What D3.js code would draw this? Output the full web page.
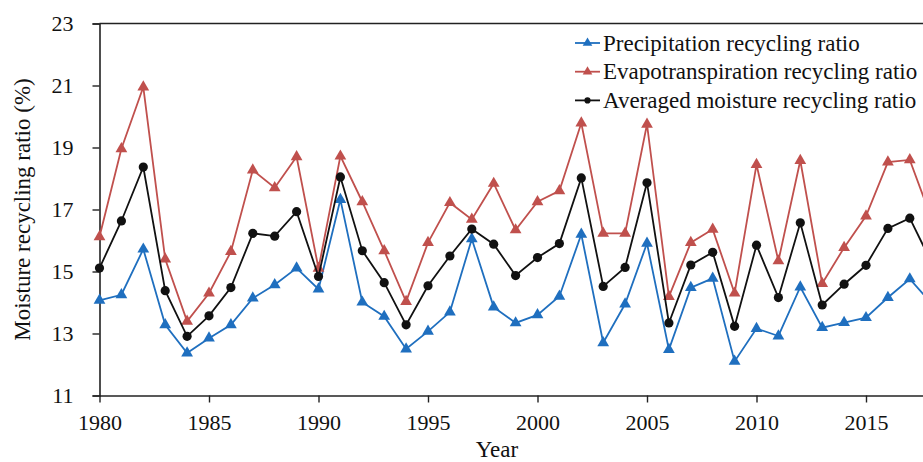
<!DOCTYPE html>
<html>
<head>
<meta charset="utf-8">
<script src="https://cdn.jsdelivr.net/npm/d3@7"></script>
<style>
  body { margin: 0; background: #fff; overflow: hidden; }
  svg { display: block; font-family: "Liberation Serif", "Times New Roman", serif; }
</style>
</head>
<body>
<div id="chart"></div>
<script>
const years = d3.range(1980, 2019)
const precip = [14.07, 14.25, 15.72, 13.28, 12.37, 12.85, 13.28, 14.14, 14.57, 15.11,
  14.43, 17.32, 14.01, 13.55, 12.5, 13.07, 13.69, 16.05, 13.85, 13.34,
  13.6, 14.2, 16.2, 12.7, 13.95, 15.91, 12.48, 14.48, 14.78, 12.1,
  13.16, 12.92, 14.5, 13.19, 13.35, 13.51, 14.16, 14.76, 13.96]
const evap = [16.12, 18.96, 20.95, 15.4, 13.39, 14.3, 15.64, 18.27, 17.7, 18.7,
  15.1, 18.72, 17.25, 15.67, 14.03, 15.93, 17.22, 16.68, 17.84, 16.34,
  17.25, 17.6, 19.79, 16.23, 16.23, 19.75, 14.19, 15.93, 16.36, 14.3,
  18.45, 15.34, 18.58, 14.61, 15.77, 16.79, 18.53, 18.6, 16.69]
const averaged = [15.11, 16.63, 18.37, 14.38, 12.91, 13.57, 14.48, 16.23, 16.14, 16.93,
  14.84, 18.05, 15.67, 14.64, 13.28, 14.54, 15.5, 16.37, 15.88, 14.87,
  15.45, 15.9, 18.02, 14.52, 15.13, 17.86, 13.34, 15.21, 15.62, 13.23,
  15.85, 14.16, 16.57, 13.92, 14.59, 15.2, 16.39, 16.72, 15.28]
const xTicks = [1980, 1985, 1990, 1995, 2000, 2005, 2010, 2015]
const yTicks = [11, 13, 15, 17, 19, 21, 23]

const series = [
  { name: 'Precipitation recycling ratio', values: precip, color: '#1f6fbf', marker: 'triangle' },
  { name: 'Evapotranspiration recycling ratio', values: evap, color: '#c0504d', marker: 'triangle' },
  { name: 'Averaged moisture recycling ratio', values: averaged, color: '#111111', marker: 'circle' }
]

const width = 923, height = 462
const margin = { top: 23.5, left: 99.5, bottom: 66 }

const svg = d3.select('#chart')
  .append('svg')
    .attr('width', width)
    .attr('height', height)

// x axis runs past the right edge, like the cropped original
const x = d3.scaleLinear()
  .domain([1980, 2020])
  .range([margin.left, margin.left + 40 * 21.9])

const y = d3.scaleLinear()
  .domain([11, 23])
  .range([height - margin.bottom - 0.5, margin.top])

// frame: top border
svg.append('line')
  .attr('x1', margin.left).attr('x2', width + 5)
  .attr('y1', y(23)).attr('y2', y(23))
  .attr('stroke', '#222').attr('stroke-width', 1.6)

const yAxis = svg.append('g')
  .attr('transform', `translate(${margin.left},0)`)
  .call(d3.axisLeft(y).tickValues(yTicks).tickSize(7).tickPadding(19))
yAxis.select('.domain').attr('stroke', '#222').attr('stroke-width', 1.6)
yAxis.selectAll('.tick line').attr('stroke', '#222').attr('stroke-width', 1.4)
yAxis.selectAll('text').attr('font-size', '22px').attr('fill', '#111').attr('font-family', '"Liberation Serif", serif')

const xAxis = svg.append('g')
  .attr('transform', `translate(0,${y(11)})`)
  .call(d3.axisBottom(x).tickValues(xTicks).tickFormat(d3.format('d')).tickSize(7).tickPadding(12).tickSizeOuter(0))
xAxis.select('.domain').attr('stroke', '#222').attr('stroke-width', 1.6)
xAxis.selectAll('.tick line').attr('stroke', '#222').attr('stroke-width', 1.4)
xAxis.selectAll('text').attr('font-size', '22px').attr('fill', '#111').attr('font-family', '"Liberation Serif", serif')

// axis titles
svg.append('text')
  .attr('x', 497).attr('y', 457)
  .attr('text-anchor', 'middle')
  .attr('font-size', '23px').attr('fill', '#111')
  .text('Year')

svg.append('text')
  .attr('transform', `translate(30,${(y(11) + y(23)) / 2}) rotate(-90)`)
  .attr('text-anchor', 'middle')
  .attr('font-size', '23px').attr('fill', '#111')
  .text('Moisture recycling ratio (%)')

const line = d3.line()
  .x((d, i) => x(years[i]))
  .y(d => y(d))

const triangle = d3.symbol().type(d3.symbolTriangle).size(60)

series.forEach(s => {
  svg.append('path')
    .datum(s.values)
    .attr('fill', 'none')
    .attr('stroke', s.color)
    .attr('stroke-width', 1.8)
    .attr('d', line)

  const g = svg.append('g').attr('fill', s.color)
  if (s.marker === 'triangle') {
    g.selectAll('path')
      .data(s.values)
      .join('path')
        .attr('d', triangle)
        .attr('transform', (d, i) => `translate(${x(years[i])},${y(d)})`)
  } else {
    g.selectAll('circle')
      .data(s.values)
      .join('circle')
        .attr('r', 4.6)
        .attr('cx', (d, i) => x(years[i]))
        .attr('cy', d => y(d))
  }
})

// legend
const legend = svg.append('g')
  .attr('transform', 'translate(575,43)')
const rows = legend.selectAll('g')
  .data(series)
  .join('g')
    .attr('transform', (d, i) => `translate(0,${i * 28.7})`)
rows.append('line')
  .attr('x1', 0).attr('x2', 25)
  .attr('stroke', d => d.color).attr('stroke-width', 1.8)
rows.append('path')
  .attr('d', d => d.marker === 'triangle'
    ? d3.symbol().type(d3.symbolTriangle).size(40)()
    : d3.symbol().type(d3.symbolCircle).size(30)())
  .attr('transform', 'translate(12.5,0)')
  .attr('fill', d => d.color)
rows.append('text')
  .attr('x', 28).attr('dy', '0.33em')
  .attr('font-size', '23px').attr('fill', '#111')
  .text(d => d.name)
</script>
</body>
</html>
